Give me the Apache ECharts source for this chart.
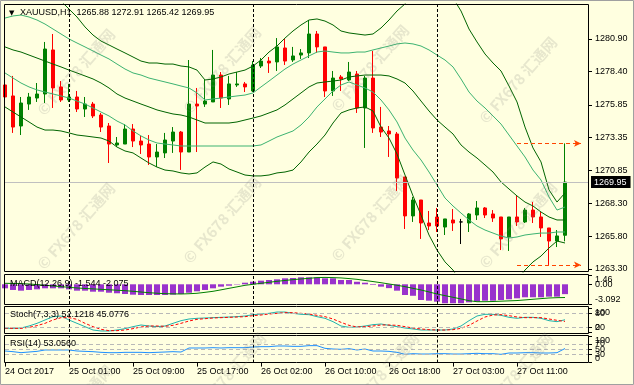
<!DOCTYPE html>
<html><head><meta charset="utf-8">
<script src="https://cdn.jsdelivr.net/npm/echarts@6/dist/echarts.min.js"></script>
<style>html,body{margin:0;padding:0;background:#FFFFE0;}#c{width:634px;height:385px;}</style>
</head><body><div id="c"></div>
<script>
const symbolName = 'XAUUSD,H1';
const open = [1277.38,1276.54,1274.24,1275.92,1276.38,1276.69,1280.06,1277.23,1276.23,1276.46,
 1275.54,1275.92,1275.08,1274.24,1272.79,1272.86,1274.01,1273.09,1272.86,1271.87,
 1272.18,1273.09,1273.78,1272.25,1275.92,1275.92,1276.08,1278.14,1276.31,1277.38,
 1277.46,1276.92,1278.83,1279.21,1279.14,1280.21,1279.29,1279.67,1279.83,1281.28,
 1280.29,1276.92,1277.99,1277.76,1278.22,1275.62,1277.91,1274.16,1273.86,1273.63,
 1270.34,1267.36,1268.58,1266.82,1267.28,1266.51,1267.05,1266.90,1266.82,1267.43,
 1267.97,1267.51,1267.28,1265.75,1267.28,1266.90,1267.81,1267.28,1266.44,1265.44,
 1265.88];
const close = [1276.46,1274.16,1276.00,1276.46,1276.69,1280.13,1277.15,1276.23,1276.46,1275.54,
 1275.92,1275.01,1274.16,1272.86,1272.94,1274.01,1273.09,1272.79,1271.87,1272.25,
 1273.17,1273.78,1272.25,1275.92,1275.77,1276.15,1278.14,1276.38,1277.46,1277.46,
 1277.23,1278.91,1279.21,1279.06,1280.29,1279.21,1279.60,1279.83,1281.28,1280.29,
 1276.92,1277.91,1277.84,1278.37,1275.62,1277.91,1274.09,1273.78,1273.63,1270.26,
 1267.36,1268.58,1266.82,1266.59,1266.59,1267.13,1266.82,1266.90,1267.51,1267.97,
 1267.43,1267.20,1265.60,1267.28,1266.90,1267.81,1267.28,1266.44,1265.44,1265.83,
 1269.95];
const low = [1275.47,1273.71,1273.55,1275.47,1276.08,1276.00,1275.62,1276.08,1276.08,1275.31,
 1274.93,1274.85,1273.78,1271.41,1272.63,1272.86,1272.63,1272.10,1271.26,1271.10,
 1271.79,1272.18,1270.88,1272.25,1272.25,1275.70,1276.08,1275.62,1275.85,1277.23,
 1276.84,1276.84,1278.68,1278.30,1278.45,1278.91,1279.14,1279.37,1279.44,1279.83,
 1276.46,1276.54,1276.92,1277.68,1275.24,1272.56,1273.71,1273.40,1271.87,1269.27,
 1266.36,1266.90,1265.60,1266.28,1266.13,1265.90,1266.21,1265.21,1266.13,1267.05,
 1267.20,1266.90,1264.75,1264.68,1266.59,1266.82,1266.82,1265.75,1263.61,1264.98,
 1265.42];
const high = [1278.14,1278.07,1276.46,1276.77,1277.53,1280.67,1281.28,1277.68,1277.46,1276.92,
 1276.46,1276.08,1275.24,1274.47,1273.40,1274.39,1274.39,1273.48,1273.55,1272.86,
 1273.71,1274.16,1273.86,1279.29,1277.15,1277.76,1280.06,1278.37,1278.07,1278.37,
 1277.61,1279.21,1279.44,1279.52,1280.97,1280.90,1280.29,1280.13,1282.35,1281.51,
 1280.29,1278.45,1278.14,1279.14,1278.45,1278.07,1279.98,1275.70,1274.24,1273.78,
 1270.34,1268.81,1268.58,1267.74,1267.97,1267.13,1267.89,1267.13,1267.58,1268.50,
 1268.04,1267.81,1267.28,1267.28,1268.89,1267.97,1268.43,1267.66,1266.44,1266.28,
 1272.91];

const bbUpper2 = [null,null,null,null,null,null,null,1283.80,1283.19,1282.58,
 1281.82,1281.20,1280.74,1280.44,1280.13,1279.83,1279.52,1279.21,1279.06,1279.06,
 1278.98,1278.98,1278.83,1278.76,1278.52,1277.76,1277.84,1277.99,1278.22,1278.37,
 1278.52,1278.83,1279.29,1279.90,1280.36,1280.97,1281.51,1281.97,1282.35,1282.43,
 1282.27,1281.97,1281.51,1281.36,1281.28,1281.20,1281.28,1281.74,1282.35,1283.04,
 1283.58,1284.49,1284.95,1285.11,1285.03,1284.80,1284.03,1283.04,1281.66,1280.67,
 1279.75,1279.06,1278.45,1277.30,1276.08,1274.16,1272.56,1271.49,1269.35,1268.42,
 1269.12];
const bbUpper1 = [1282.50,1282.66,1282.73,1282.58,1282.35,1282.04,1281.66,1281.28,1280.90,1280.59,
 1280.29,1279.98,1279.67,1279.37,1278.98,1278.60,1278.30,1278.14,1277.91,1277.76,
 1277.61,1277.46,1277.30,1277.15,1276.77,1276.23,1276.31,1276.38,1276.46,1276.54,
 1276.61,1276.77,1277.23,1277.68,1278.14,1278.60,1278.98,1279.29,1279.60,1279.90,
 1279.98,1279.90,1279.83,1279.83,1279.90,1279.90,1280.06,1280.21,1280.36,1280.52,
 1280.59,1280.52,1280.36,1280.06,1279.67,1279.29,1278.76,1277.84,1276.84,1276.15,
 1275.62,1275.01,1274.39,1273.55,1272.71,1271.87,1270.87,1270.11,1268.81,1267.81,
 1268.04];
const bbMiddle = [1280.29,1280.06,1279.90,1279.67,1279.44,1279.21,1278.98,1278.76,1278.52,1278.30,
 1278.07,1277.84,1277.53,1277.15,1276.69,1276.38,1276.15,1275.92,1275.70,1275.47,
 1275.31,1275.16,1275.08,1274.93,1274.70,1274.47,1274.47,1274.47,1274.47,1274.55,
 1274.70,1274.85,1275.01,1275.24,1275.47,1275.85,1276.31,1276.77,1277.23,1277.53,
 1277.61,1277.68,1277.76,1277.99,1278.07,1278.14,1278.14,1278.14,1278.07,1277.84,
 1277.53,1276.92,1276.15,1275.39,1274.70,1274.16,1273.63,1272.79,1272.25,1271.79,
 1271.26,1270.72,1269.96,1269.42,1268.89,1268.42,1268.12,1267.66,1267.28,1267.05,
 1267.05];
const bbLower1 = [1278.30,1277.91,1277.53,1277.23,1277.00,1276.84,1276.69,1276.54,1276.38,1276.15,
 1275.92,1275.62,1275.31,1275.01,1274.62,1274.32,1273.86,1273.48,1273.17,1272.94,
 1272.86,1272.79,1272.71,1272.71,1272.71,1272.71,1272.71,1272.71,1272.71,1272.71,
 1272.71,1272.71,1272.79,1273.09,1273.40,1273.63,1273.86,1274.32,1274.93,1275.70,
 1276.31,1276.92,1277.38,1277.61,1277.38,1277.15,1276.84,1276.23,1275.47,1274.55,
 1273.32,1272.40,1271.64,1270.72,1269.73,1268.73,1268.12,1267.58,1267.05,1266.59,
 1266.28,1266.05,1265.82,1265.67,1265.75,1265.90,1265.98,1266.05,1266.05,1266.13,
 1266.13];
const bbLower2 = [1275.70,1275.31,1274.93,1274.55,1274.16,1273.93,1273.93,1273.86,1273.71,1273.55,
 1273.48,1273.40,1273.32,1273.09,1272.63,1272.33,1272.18,1271.79,1271.41,1271.10,
 1270.87,1270.80,1270.65,1270.57,1270.65,1271.10,1271.49,1271.33,1270.95,1270.72,
 1270.49,1270.42,1270.42,1270.49,1270.65,1270.72,1270.87,1271.49,1272.25,1272.86,
 1273.55,1274.47,1275.24,1275.47,1275.62,1275.70,1275.39,1274.16,1273.32,1272.10,
 1270.49,1268.89,1267.43,1265.90,1264.75,1263.84,1263.22,1262.30,1261.69,1261.23,
 1260.93,1260.93,1261.23,1261.85,1262.46,1263.22,1263.84,1264.29,1264.91,1265.44,
 1265.29];

const macdMain = [-0.63,-0.89,-1.00,-0.89,-0.79,-0.63,-0.63,-0.63,-0.79,-1.00,
 -1.00,-1.16,-1.16,-1.32,-1.41,-1.52,-1.63,-1.68,-1.68,-1.68,
 -1.68,-1.63,-1.52,-1.32,-1.10,-0.89,-0.63,-0.37,-0.22,-0.06,
 0.25,0.41,0.57,0.68,0.78,0.94,0.99,1.10,1.10,1.10,
 0.94,0.94,0.68,0.68,0.40,0.25,-0.10,-0.37,-0.60,-1.00,
 -1.68,-1.80,-2.46,-2.57,-2.73,-2.98,-2.98,-2.98,-2.83,-2.73,
 -2.57,-2.57,-2.46,-2.35,-2.20,-2.04,-2.04,-2.04,-1.94,-1.94,
 -1.544];
const macdSignal = [0.16,0.13,0.10,0.05,-0.05,-0.15,-0.26,-0.37,-0.47,-0.58,
 -0.65,-0.72,-0.79,-0.86,-0.93,-1.00,-1.10,-1.21,-1.32,-1.40,
 -1.47,-1.50,-1.52,-1.48,-1.41,-1.26,-1.10,-0.87,-0.63,-0.40,
 -0.16,0.00,0.16,0.31,0.47,0.60,0.73,0.84,0.94,1.05,
 1.08,1.05,1.00,0.90,0.78,0.60,0.43,0.25,0.05,-0.15,
 -0.37,-0.63,-0.89,-1.20,-1.52,-1.78,-2.04,-2.30,-2.57,-2.73,
 -2.73,-2.70,-2.65,-2.60,-2.55,-2.45,-2.35,-2.25,-2.15,-2.10,
 -2.075];
const stochMain = [15.6,15.6,17.0,25.5,36.9,51.1,65.2,68.1,51.1,36.9,
 22.7,8.5,4.3,4.3,8.5,14.2,22.7,29.8,25.5,22.7,
 25.5,36.9,48.2,55.3,58.2,59.6,61.0,62.4,63.8,65.2,
 68.1,73.8,76.6,79.4,85.1,85.1,79.4,75.2,73.8,65.2,
 58.2,44.0,25.5,19.9,21.3,25.5,31.2,34.0,28.4,22.7,
 17.0,12.8,8.5,8.5,8.5,8.5,12.8,25.5,48.2,68.1,
 75.2,75.2,70.9,62.4,58.2,62.4,62.4,58.2,48.2,44.0,
 52.1218];
const stochSignal = [17.0,15.6,15.6,19.9,27.0,36.9,51.1,61.0,61.0,53.9,
 36.9,22.7,11.4,5.7,5.7,8.5,14.2,21.3,25.5,25.5,
 24.1,28.4,36.9,46.8,53.9,56.7,59.6,61.0,62.4,63.8,
 65.2,69.5,72.3,76.6,79.4,82.3,82.3,79.4,76.6,70.9,
 65.2,55.3,41.1,28.4,21.3,22.7,25.5,29.8,29.8,28.4,
 22.7,17.0,12.8,9.9,8.5,8.5,9.9,15.6,28.4,46.8,
 63.8,72.3,73.8,69.5,63.8,61.0,61.0,61.0,55.3,49.7,
 45.0776];
const rsi = [43.6,41.1,37.3,39.8,42.3,47.4,47.4,47.4,47.4,43.6,
 42.3,41.1,38.6,37.3,37.3,38.6,38.6,38.6,37.3,38.6,
 39.8,41.1,39.8,54.9,54.9,54.9,56.1,54.9,56.1,56.1,
 56.1,58.6,59.9,59.9,62.4,62.4,61.1,61.1,63.7,63.7,
 53.6,51.1,49.9,52.4,47.4,51.1,43.6,43.6,42.3,38.6,
 31.1,33.6,32.3,32.3,33.6,33.6,32.3,32.3,33.6,34.9,
 33.6,33.6,31.1,36.1,36.1,37.3,37.3,36.1,36.1,37.3,
 53.056];

const priceTicks = [1263.30,1265.80,1268.30,1270.85,1273.35,1275.85,1278.40,1280.90];
const priceTickText = ['1263.30','1265.80','1268.30','1270.85','1273.35','1275.85','1278.40','1280.90'];
const macdTicks = [-3.092, 0, 1.46];
const macdTickText = ['-3.092','0.00','1.46'];
const stochTicks = [0, 20, 80, 100];
const stochTickText = ['0','20','80','100'];
const rsiTicks = [0, 30, 50, 70, 100];
const rsiTickText = ['0','30','50','70','100'];
const stochLevels = [80, 20];
const rsiLevels = [70, 50, 30];
const timeTickIdx = [0, 8, 16, 24, 32, 40, 48, 56, 64];
const timeTickText = ['24 Oct 2017','25 Oct 01:00','25 Oct 09:00','25 Oct 17:00','26 Oct 02:00','26 Oct 10:00','26 Oct 18:00','27 Oct 03:00','27 Oct 11:00'];
const daySeparators = [8, 31, 54];
const rangeHigh = 1272.91, rangeLow = 1263.61;
const rangeFrom = 64, rangeTo = 72;
const SLOTS = 74;

const FONT = '"Liberation Sans", Arial, sans-serif';
const last = close.length - 1;
const cats = Array.from({length: SLOTS}, (_, i) => String(i));

function xAx(g, show) {
  return {type: 'category', gridIndex: g, data: cats, boundaryGap: false,
    axisLine: {show: false}, splitLine: {show: false},
    axisTick: {show: show, interval: (i) => timeTickIdx.includes(i), length: 4, lineStyle: {color: '#000'}},
    axisLabel: {show: show, interval: (i) => timeTickIdx.includes(i), hideOverlap: false,
      formatter: (v, i) => timeTickText[timeTickIdx.indexOf(Number(v))] || '',
      align: 'left', margin: 4, color: '#000', fontSize: 9, fontFamily: FONT}};
}
function lookup(ticks, texts, v) {
  const k = ticks.findIndex(t => Math.abs(t - v) < 1e-6);
  return k >= 0 ? texts[k] : '';
}
function valueAxis(g, min, max, values, ticks, texts, extra) {
  return {type: 'value', gridIndex: g, position: 'right', min: min, max: max,
    axisLine: {show: false}, splitLine: {show: false},
    axisTick: {show: true, customValues: values, length: 3, lineStyle: {color: '#000'}},
    axisLabel: Object.assign({customValues: values, margin: 6, color: '#000', fontSize: 9, fontFamily: FONT,
      hideOverlap: false, showMinLabel: true, showMaxLabel: true,
      formatter: (v) => lookup(ticks, texts, v)}, extra || {})};
}
// MT4 prints the window min/max labels at the edges and every level label too (overlapping);
// one axis carries the end labels, one extra axis per inner level keeps them all visible.
function panelAxes(g, min, max, ticks, texts) {
  const axes = [valueAxis(g, min, max, [min, max], ticks, texts, {verticalAlignMinLabel: 'bottom', verticalAlignMaxLabel: 'top'})];
  ticks.filter(t => t !== min && t !== max).forEach(t => axes.push(valueAxis(g, min, max, [t], ticks, texts, {verticalAlign: 'middle'})));
  return axes;
}
const priceAxis = valueAxis(0, 1263.07, 1283.575, priceTicks, priceTicks, priceTickText);

const macdAxes = panelAxes(1, -3.092, 1.46, macdTicks, macdTickText);
const stochAxes = panelAxes(2, 0, 100, stochTicks, stochTickText);
const rsiAxes = panelAxes(3, 0, 100, rsiTicks, rsiTickText);
const yAxes = [priceAxis].concat(macdAxes, stochAxes, rsiAxes);
const macdY = 1, stochY = 1 + macdAxes.length, rsiY = stochY + stochAxes.length;

const sepLines = daySeparators.map(i => ({xAxis: i, lineStyle: {color: '#000', type: [3, 2], width: 1}}));
function levelLines(levels) {
  return levels.map(v => ({yAxis: v, lineStyle: {color: '#B8B8B8', type: [4, 3], width: 1}}));
}
function mk(data) {
  return {silent: true, symbol: 'none', animation: false, label: {show: false}, data: data};
}
function bandLine(data, color) {
  return {type: 'line', xAxisIndex: 0, yAxisIndex: 0, data: data, symbol: 'none', showSymbol: false,
    lineStyle: {color: color, width: 1}, silent: true, z: 3, connectNulls: false};
}

const wm = '© FX678 汇通网';
const wmPos = [[76,72],[222,70],[370,68],[518,80],[76,226],[222,220],[370,218],[518,225],[74,408],[227,376],[380,376],[514,376]];

const graphic = [];
graphic.push({type:'rect', shape:{x:0.5,y:0.5,width:633,height:384}, style:{fill:'none', stroke:'#A0A0A0', lineWidth:1}, silent:true, z:60});
[[4.5,4.5,584,267],[4.5,274.5,584,30],[4.5,306.5,584,27],[4.5,335.5,584,27]].forEach(r => {
  graphic.push({type:'rect', shape:{x:r[0],y:r[1],width:r[2],height:r[3]}, style:{fill:'none', stroke:'#000', lineWidth:1}, silent:true, z:60});
});
graphic.push({type:'text', x:9, y:13, style:{text:'▼', fill:'#000', font:'7px "DejaVu Sans"', verticalAlign:'middle'}, z:61});
graphic.push({type:'text', x:20, y:13, style:{text: symbolName + '  ' + open[last].toFixed(2) + ' ' + high[last].toFixed(2) + ' ' + low[last].toFixed(2) + ' ' + close[last].toFixed(2), fill:'#000', font:'9px ' + FONT, verticalAlign:'middle'}, z:61});
graphic.push({type:'text', x:10, y:284, style:{text:'MACD(12,26,9) ' + macdMain[last].toFixed(3) + ' ' + macdSignal[last].toFixed(3), fill:'#000', font:'9px ' + FONT, verticalAlign:'middle'}, z:61});
graphic.push({type:'text', x:10, y:315, style:{text:'Stoch(7,3,3) ' + stochMain[last].toFixed(4) + ' ' + stochSignal[last].toFixed(4), fill:'#000', font:'9px ' + FONT, verticalAlign:'middle'}, z:61});
graphic.push({type:'text', x:10, y:344, style:{text:'RSI(14) ' + rsi[last].toFixed(4), fill:'#000', font:'9px ' + FONT, verticalAlign:'middle'}, z:61});
wmPos.forEach(p => {
  graphic.push({type:'text', x:p[0], y:p[1], rotation:0.85, style:{text:wm, fill:'rgba(120,120,120,0.18)', font:'bold 15px "Noto Sans CJK SC"', align:'center', verticalAlign:'middle'}, silent:true, z:70});
});

const chart = echarts.init(document.getElementById('c'), null, {renderer: 'canvas'});
chart.setOption({
  animation: false,
  backgroundColor: '#FFFFE0',
  textStyle: {fontFamily: FONT},
  grid: [
    {left: 5, top: 4, width: 584, height: 268},
    {left: 5, top: 275, width: 584, height: 29},
    {left: 5, top: 308.5, width: 584, height: 23.5},
    {left: 5, top: 336, width: 584, height: 26.6}
  ],
  xAxis: [xAx(0, false), xAx(1, false), xAx(2, false), xAx(3, true)],
  yAxis: yAxes,
  series: [
    bandLine(bbUpper2, '#006400'),
    bandLine(bbUpper1, '#3CB371'),
    Object.assign(bandLine(bbMiddle, '#006400'), {markLine: mk(sepLines)}),
    bandLine(bbLower1, '#3CB371'),
    bandLine(bbLower2, '#006400'),
    {type: 'candlestick', xAxisIndex: 0, yAxisIndex: 0, barWidth: 4, z: 2,
      data: open.map((o, i) => [o, close[i], low[i], high[i]]),
      itemStyle: {color: '#008000', color0: '#FF0000', borderColor: '#008000', borderColor0: '#FF0000', borderColorDoji: '#000000', borderWidth: 1},
      markLine: {silent: true, symbol: 'none', animation: false, data: [
        {yAxis: close[last], lineStyle: {color: '#C0C0C0', type: 'solid', width: 1},
          label: {show: true, position: 'end', distance: 2, formatter: close[last].toFixed(2), color: '#fff', backgroundColor: '#000', padding: [2, 4, 1, 3], fontSize: 9, fontFamily: FONT}},
        [{coord: [rangeFrom, rangeHigh], symbol: 'none', lineStyle: {color: '#FF4500', type: [4, 3], width: 1}, label: {show: false}},
         {coord: [rangeTo, rangeHigh], symbol: 'arrow', symbolSize: [5, 7]}],
        [{coord: [rangeFrom, rangeLow], symbol: 'none', lineStyle: {color: '#FF4500', type: [4, 3], width: 1}, label: {show: false}},
         {coord: [rangeTo, rangeLow], symbol: 'arrow', symbolSize: [5, 7]}]
      ]}},
    {type: 'bar', xAxisIndex: 1, yAxisIndex: macdY, data: macdMain, barWidth: 6, itemStyle: {color: '#9932CC'}, silent: true},
    {type: 'line', xAxisIndex: 1, yAxisIndex: macdY, data: macdSignal, symbol: 'none', lineStyle: {color: '#008000', width: 1}, silent: true, markLine: mk(sepLines)},
    {type: 'line', xAxisIndex: 2, yAxisIndex: stochY, data: stochMain, symbol: 'none', lineStyle: {color: '#20B2AA', width: 1}, silent: true, markLine: mk(sepLines.concat(levelLines(stochLevels)))},
    {type: 'line', xAxisIndex: 2, yAxisIndex: stochY, data: stochSignal, symbol: 'none', lineStyle: {color: '#FF0000', width: 1, type: [3, 2]}, silent: true},
    {type: 'line', xAxisIndex: 3, yAxisIndex: rsiY, data: rsi, symbol: 'none', lineStyle: {color: '#1E90FF', width: 1}, silent: true, markLine: mk(sepLines.concat(levelLines(rsiLevels)))}
  ],
  graphic: graphic
});
</script>
</body></html>
